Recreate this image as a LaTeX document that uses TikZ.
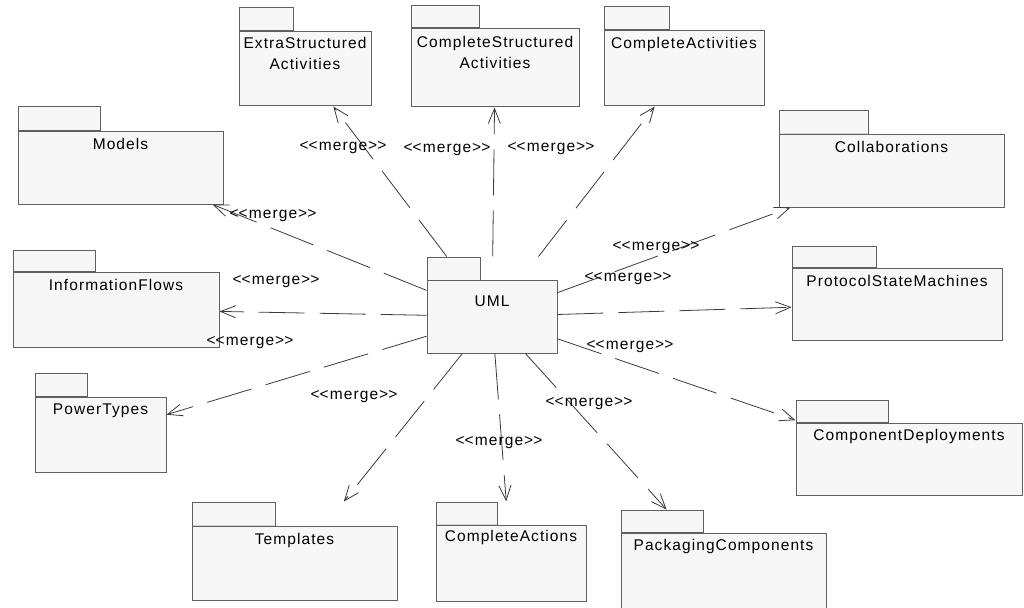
\documentclass[tikz,border=0pt]{standalone}
\usepackage{fontspec}
\newfontfamily\umlfont{Liberation Sans}[LetterSpace=7]
\usetikzlibrary{arrows.meta,positioning}

\definecolor{pkgfill}{HTML}{F7F7F7}
\definecolor{pkgline}{HTML}{606060}
\definecolor{sepline}{HTML}{D6D6D6}
\definecolor{mergeline}{HTML}{3A3A3A}

\newcommand{\mergelabel}{<\kern0pt<merge>\kern0pt>}

\tikzset{
  every node/.style={font=\umlfont\fontsize{15.5}{21}\selectfont},
  pkg/.style={draw=pkgline, fill=pkgfill, line width=1pt, inner sep=0pt},
  pkgtab/.style={pkg, anchor=south west},
  pkgname/.style={inner sep=0pt, align=center, text=black},
  merge/.style={draw=mergeline, line width=0.8pt, dash pattern=on 46pt off 15pt,
    -{Straight Barb[length=15pt,width=12pt]}},
  stereo/.style={inner sep=0pt, text=black}
}

\begin{document}
\begin{tikzpicture}[x=1pt,y=-1pt]
\useasboundingbox (0,0) rectangle (1024,607);

% packages
\node[pkg, minimum width=132pt, minimum height=74pt] (extra) at (305,69) {};
\node[pkgtab, minimum width=54pt, minimum height=23pt] (extratab) at (extra.north west) {};
\node[pkgname, below=6pt of extra.north] (extraname) {ExtraStructured\\Activities};

\node[pkg, minimum width=168pt, minimum height=78pt] (cstruct) at (495,68) {};
\node[pkgtab, minimum width=68pt, minimum height=22pt] (cstructtab) at (cstruct.north west) {};
\node[pkgname, below=8pt of cstruct.north] (cstructname) {CompleteStructured\\Activities};

\node[pkg, minimum width=160pt, minimum height=75pt] (cact) at (684,68.5) {};
\node[pkgtab, minimum width=65pt, minimum height=23pt] (cacttab) at (cact.north west) {};
\node[pkgname, below=7pt of cact.north] (cactname) {CompleteActivities};

\node[pkg, minimum width=205pt, minimum height=73pt] (models) at (120.5,167.5) {};
\node[pkgtab, minimum width=82pt, minimum height=23pt] (modelstab) at (models.north west) {};
\node[pkgname, below=8pt of models.north] (modelsname) {Models};

\node[pkg, minimum width=225pt, minimum height=73pt] (collab) at (891.5,170.5) {};
\node[pkgtab, minimum width=89pt, minimum height=22pt] (collabtab) at (collab.north west) {};
\node[pkgname, below=8pt of collab.north] (collabname) {Collaborations};

\node[pkg, minimum width=206pt, minimum height=75pt] (infoflows) at (116,309.5) {};
\node[pkgtab, minimum width=82pt, minimum height=21pt] (infoflowstab) at (infoflows.north west) {};
\node[pkgname, below=8pt of infoflows.north] (infoflowsname) {InformationFlows};

\node[pkg, minimum width=130pt, minimum height=73pt] (uml) at (492,316.5) {};
\node[pkgtab, minimum width=53pt, minimum height=22pt] (umltab) at (uml.north west) {};
\node[pkgname, below=16pt of uml.north] (umlname) {UML};

\node[pkg, minimum width=210pt, minimum height=72pt] (protocol) at (897,304) {};
\node[pkgtab, minimum width=84pt, minimum height=21pt] (protocoltab) at (protocol.north west) {};
\node[pkgname, below=8pt of protocol.north] (protocolname) {ProtocolStateMachines};

\node[pkg, minimum width=131pt, minimum height=75pt] (powertypes) at (100.5,434.5) {};
\node[pkgtab, minimum width=52pt, minimum height=23pt] (powertypestab) at (powertypes.north west) {};
\node[pkgname, below=7pt of powertypes.north] (powertypesname) {PowerTypes};

\node[pkg, minimum width=226pt, minimum height=72pt] (compdep) at (909,459) {};
\node[pkgtab, minimum width=92pt, minimum height=22pt] (compdeptab) at (compdep.north west) {};
\node[pkgname, below=7pt of compdep.north] (compdepname) {ComponentDeployments};

\node[pkg, minimum width=205pt, minimum height=74pt] (templates) at (294.5,563) {};
\node[pkgtab, minimum width=83pt, minimum height=23pt] (templatestab) at (templates.north west) {};
\node[pkgname, below=8pt of templates.north] (templatesname) {Templates};

\node[pkg, minimum width=150pt, minimum height=76pt] (cactions) at (511,563) {};
\node[pkgtab, minimum width=61pt, minimum height=22pt] (cactionstab) at (cactions.north west) {};
\node[pkgname, below=6pt of cactions.north] (cactionsname) {CompleteActions};

\node[pkg, minimum width=205pt, minimum height=79pt] (packaging) at (723.5,572.5) {};
\node[pkgtab, minimum width=82pt, minimum height=22pt] (packagingtab) at (packaging.north west) {};
\node[pkgname, below=7pt of packaging.north] (packagingname) {PackagingComponents};

% pale lines under some tabs
\draw[sepline, line width=1pt] ([xshift=1pt]collabtab.south west) -- ([xshift=-1pt]collabtab.south east);
\draw[sepline, line width=1pt] ([xshift=1pt]templatestab.south west) -- ([xshift=-1pt]templatestab.south east);
\draw[sepline, line width=1pt] ([xshift=1pt]cactionstab.south west) -- ([xshift=-1pt]cactionstab.south east);
\draw[pkgfill, line width=1.2pt] ([xshift=1pt]umltab.south west) -- ([xshift=-1pt]umltab.south east);

% merges
\draw[merge] (intersection of uml.center--extra.center and umltab.north west--umltab.north east) -- (extra);
\draw[merge] (intersection of uml.center--cstruct.center and umltab.north west--umltab.north east) -- (cstruct);
\draw[merge] (intersection of uml.center--cact.center and umltab.north west--umltab.north east) -- (cact);
\draw[merge] (uml) -- (models);
\draw[merge] (uml) -- (collab);
\draw[merge] (uml) -- (infoflows);
\draw[merge] (uml) -- (protocol);
\draw[merge] (uml) -- (powertypes);
\draw[merge] (uml) -- (intersection of uml.center--compdep.center and compdeptab.north west--compdeptab.south west);
\draw[merge] (uml) -- (intersection of uml.center--templates.center and templatestab.north west--templatestab.north east);
\draw[merge] (uml) -- (intersection of uml.center--cactions.center and cactionstab.north west--cactionstab.north east);
\draw[merge] (uml) -- (intersection of uml.center--packaging.center and packagingtab.north west--packagingtab.north east);

% stereotypes
\node[stereo] (mergeextra) at (343,148) {\mergelabel};
\node[stereo] (mergecstruct) at (447,150) {\mergelabel};
\node[stereo] (mergecact) at (551,149) {\mergelabel};
\node[stereo] (mergemodels) at (273,216) {\mergelabel};
\node[stereo] (mergeinfoflows) at (276,282) {\mergelabel};
\node[stereo] (mergepowertypes) at (250,343) {\mergelabel};
\node[stereo] (mergetemplates) at (354,397) {\mergelabel};
\node[stereo] (mergecactions) at (499,443) {\mergelabel};
\node[stereo] (mergepackaging) at (589,404) {\mergelabel};
\node[stereo] (mergecollab) at (656,248) {\mergelabel};
\node[stereo] (mergeprotocol) at (628,279) {\mergelabel};
\node[stereo] (mergecompdep) at (630,347) {\mergelabel};
\end{tikzpicture}
\end{document}
